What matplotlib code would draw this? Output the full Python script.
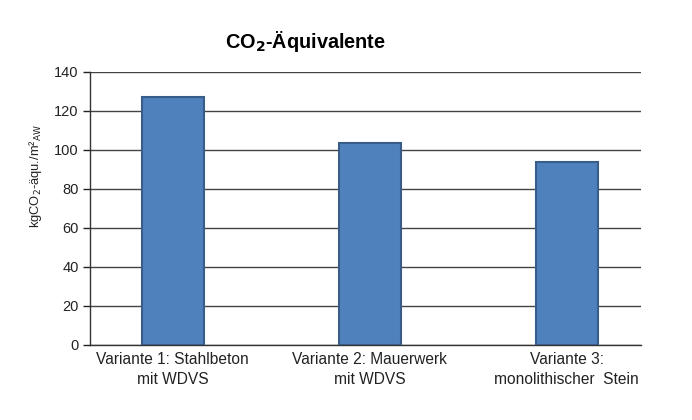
import matplotlib
matplotlib.use("Agg")
import matplotlib.pyplot as plt

plt.rcParams['font.family'] = ['Liberation Sans', 'DejaVu Sans']

categories = ['Variante 1: Stahlbeton\nmit WDVS',
              'Variante 2: Mauerwerk\nmit WDVS',
              'Variante 3:\nmonolithischer  Stein']
values = [127, 103.5, 93.5]
yticks = [0, 20, 40, 60, 80, 100, 120, 140]

fig = plt.figure(figsize=(6.92, 4.2), dpi=100)
ax = fig.add_axes([0.130, 0.179, 0.796, 0.650])

x = range(len(categories))
ax.bar(x, values, width=0.315, color='#4F81BD', edgecolor='#385D8A',
       linewidth=1.5, zorder=3)

ax.set_ylim(0, 140)
ax.set_xlim(-0.42, 2.376)
ax.set_yticks(yticks)
ax.set_xticks(list(x))
ax.set_xticklabels(categories, fontsize=11.2, color='#222222', linespacing=1.42)
ax.tick_params(axis='x', length=0, pad=5)
ax.tick_params(axis='y', length=5, width=1, labelsize=10.5, colors='#222222', pad=3)
ax.yaxis.grid(True, color='#444444', linewidth=1.0, zorder=0)

for s in ['top', 'right']:
    ax.spines[s].set_visible(False)
for s in ['left', 'bottom']:
    ax.spines[s].set_color('#333333')
    ax.spines[s].set_linewidth(1.0)

fig.text(0.442, 0.90, r'CO$_\mathbf{2}$-Äquivalente', fontsize=14.3,
         fontweight='bold', ha='center', va='center')
fig.text(0.052, 0.58, r'kgCO$_2$-äqu./m²$_{\mathrm{AW}}$', fontsize=9.3,
         rotation=90, ha='center', va='center', color='#222222')

plt.savefig('out.png', dpi=100)
